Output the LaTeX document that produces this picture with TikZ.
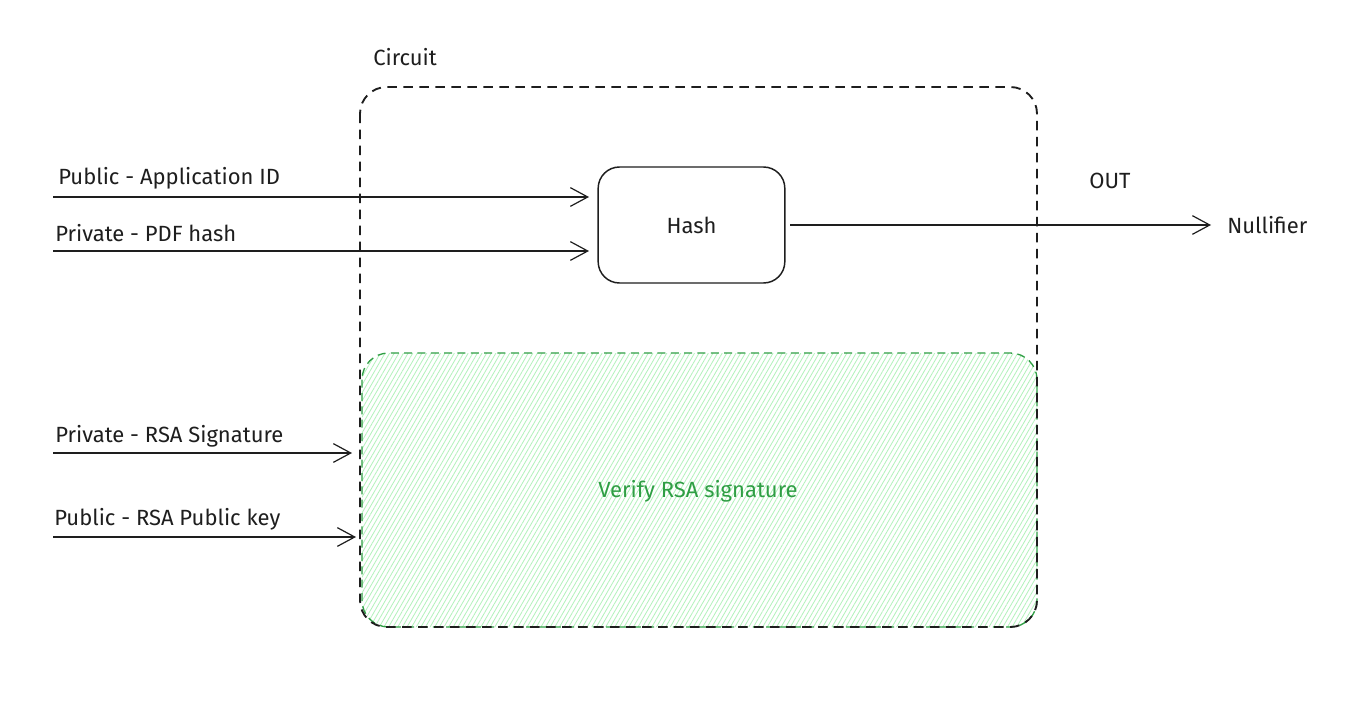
\documentclass[tikz,border=0pt]{standalone}
\usepackage{fontspec}
\setmainfont{Fira Sans}
\usetikzlibrary{arrows.meta,patterns.meta}
\definecolor{ink}{HTML}{1E1E1E}
\definecolor{grn}{HTML}{2F9E44}
\definecolor{grnfill}{HTML}{B2F2BB}
\tikzset{
  lbl/.style={font=\fontsize{16.5}{19}\selectfont, text=ink, inner sep=0pt},
  arr/.style={draw=ink, line width=1.1pt, -{Straight Barb[length=13pt,width=14pt,line width=0.9pt]}},
  dashbox/.style={draw=ink, line width=1.4pt, dash pattern=on 7pt off 5pt, rounded corners=20pt},
}
\begin{document}
\begin{tikzpicture}[x=0.75pt,y=-0.75pt]
\useasboundingbox[fill=white] (0,0) rectangle (1371,700);
% green verify region
\path[pattern={Lines[angle=60,distance=3pt,line width=0.6pt]}, pattern color=grnfill, rounded corners=20pt]
  (362,353) rectangle (1037,627);
\draw[draw=grn, line width=1pt, dash pattern=on 6pt off 4pt, rounded corners=20pt] (362,353) rectangle (1037,627);
% outer circuit box
\draw[dashbox] (360,87) rectangle (1037,627);
\node[lbl, anchor=west] (circuit) at (373,57) {Circuit};
% hash
\node[draw=ink, line width=1.1pt, rounded corners=16pt, minimum width=140pt, minimum height=87pt, lbl] (hash) at (691.5,225) {Hash};
\node[lbl, text=grn] (verify) at (698,491) {Verify RSA signature};
% labels
\node[lbl, anchor=west] (l1) at (58,178) {Public - Application ID};
\node[lbl, anchor=west] (l2) at (55,233) {Private - PDF hash};
\node[lbl, anchor=west] (l3) at (55,436) {Private - RSA Signature};
\node[lbl, anchor=west] (l4) at (54,519) {Public - RSA Public key};
\node[lbl] (out) at (1110,181) {OUT};
\node[lbl, anchor=west] (nul) at (1227,225) {Nullifier};
% coordinates
\coordinate (s1) at (53,197);
\coordinate (e1) at (589,197);
\coordinate (s2) at (53,251);
\coordinate (e2) at (589,251);
\coordinate (s3) at (53,453);
\coordinate (e3) at (352,453);
\coordinate (s4) at (53,537);
\coordinate (e4) at (356,537);
\coordinate (h1) at (790,225);
\coordinate (n1) at (1211,225);
\draw[arr] (s1) -- (e1);
\draw[arr] (s2) -- (e2);
\draw[arr] (s3) -- (e3);
\draw[arr] (s4) -- (e4);
\draw[arr] (h1) -- (n1);
\end{tikzpicture}
\end{document}
